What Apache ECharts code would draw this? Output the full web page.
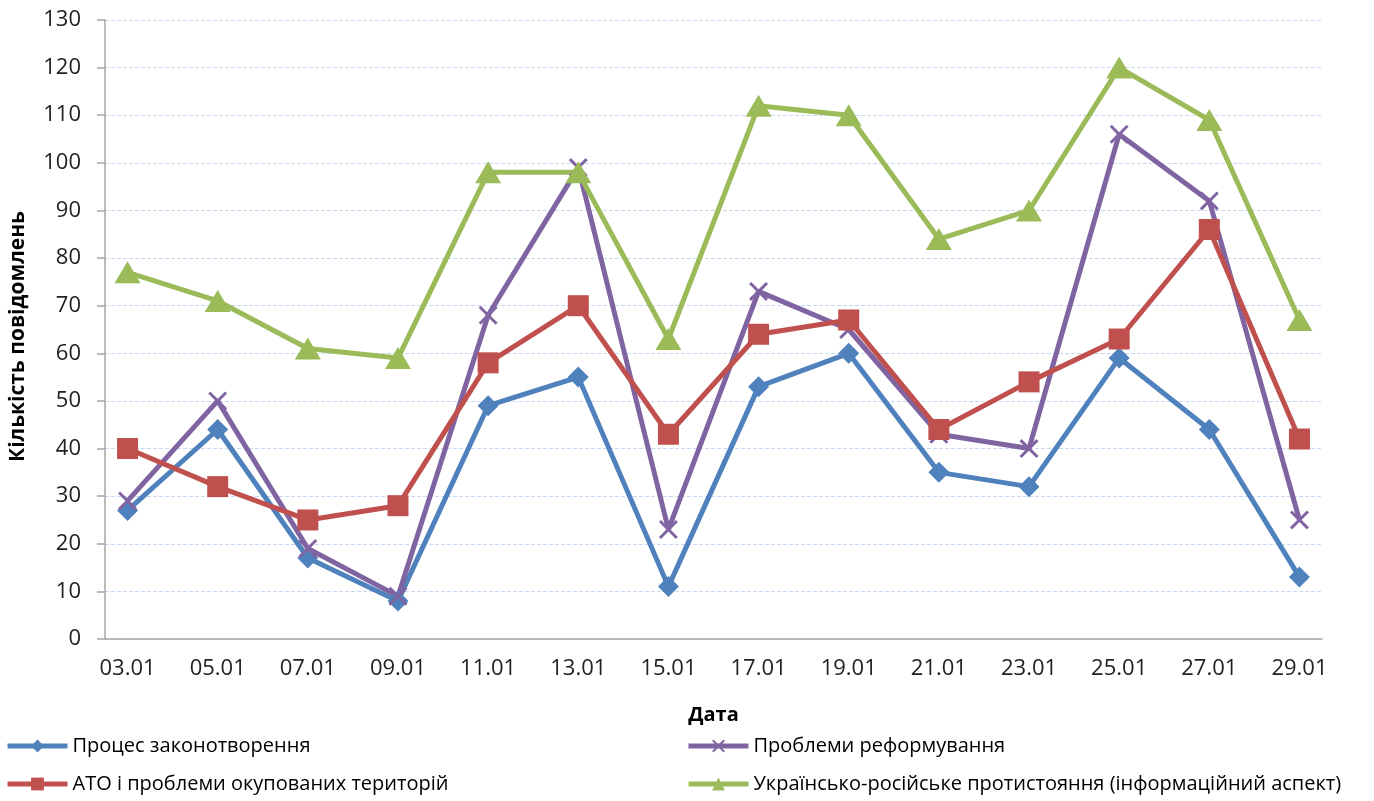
<!DOCTYPE html>
<html>
<head>
<meta charset="utf-8">
<script src="https://cdn.jsdelivr.net/npm/echarts@6/dist/echarts.min.js"></script>
<style>
html,body{margin:0;padding:0;background:#fff;}
#chart{width:1374px;height:801px;}
</style>
</head>
<body>
<div id="chart"></div>
<script>
// All days on the axis (labels shown every other day)
const days = ['03.01','04.01','05.01','06.01','07.01','08.01','09.01','10.01','11.01','12.01','13.01','14.01','15.01','16.01','17.01','18.01','19.01','20.01','21.01','22.01','23.01','24.01','25.01','26.01','27.01','28.01','29.01'];
// Dates with observations
const obsDates = ['03.01','05.01','07.01','09.01','11.01','13.01','15.01','17.01','19.01','21.01','23.01','25.01','27.01','29.01'];

const seriesNames = [
  'Процес законотворення',
  'Проблеми реформування',
  'АТО і проблеми окупованих територій',
  'Українсько-російське протистояння (інформаційний аспект)'
];
const lawmaking   = [27, 44, 17, 8, 49, 55, 11, 53, 60, 35, 32, 59, 44, 13];
const reform      = [29, 50, 19, 9, 68, 99, 23, 73, 65, 43, 40, 106, 92, 25];
const ato         = [40, 32, 25, 28, 58, 70, 43, 64, 67, 44, 54, 63, 86, 42];
const infoWar     = [77, 71, 61, 59, 98, 98, 63, 112, 110, 84, 90, 120, 109, 67];

const yTicks = {min: 0, max: 130, interval: 10};
const xAxisTitle = 'Дата';
const yAxisTitle = 'Кількість повідомлень';

const colors = ['#4F81BD', '#8064A2', '#C0504D', '#9BBB59'];
const xSymbol = 'path://M0,1.1 L1.1,0 L10,8.9 L8.9,10 Z M8.9,0 L10,1.1 L1.1,10 L0,8.9 Z';

function pairs(vals){ return obsDates.map((d,i)=>[d, vals[i]]); }

const chart = echarts.init(document.getElementById('chart'), null, {renderer:'canvas'});

function mk(name, vals, color, symbol, size){
  return {
    name: name, type: 'line', data: pairs(vals),
    symbol: symbol, symbolSize: size, showSymbol: true,
    connectNulls: true,
    lineStyle: {color: color, width: 5},
    itemStyle: {color: color},
    emphasis: {disabled: true},
    animation: false
  };
}

const legendText = {fontFamily: 'Open Sans', fontSize: 20, color: '#000', lineHeight: 24};

const option = {
  animation: false,
  backgroundColor: '#ffffff',
  grid: {left: 105, right: 52, top: 20, bottom: 162, containLabel: false},
  xAxis: {
    type: 'category', data: days, boundaryGap: true,
    name: xAxisTitle, nameLocation: 'middle', nameGap: 66,
    nameTextStyle: {fontFamily: 'Open Sans', fontWeight: 'bold', fontSize: 20, color: '#000'},
    axisLine: {lineStyle: {color: '#A6A6A6', width: 1.5}},
    axisTick: {show: false},
    axisLabel: {interval: 1, fontFamily: 'Open Sans', fontSize: 22, color: '#222', margin: 19},
    splitLine: {show: false}
  },
  yAxis: {
    type: 'value', min: yTicks.min, max: yTicks.max, interval: yTicks.interval,
    name: yAxisTitle, nameLocation: 'middle', nameGap: 76, nameRotate: 90,
    nameTextStyle: {fontFamily: 'Open Sans', fontWeight: 'bold', fontSize: 21, color: '#000', padding: [0, 14, 0, 0]},
    axisLine: {show: true, lineStyle: {color: '#A6A6A6', width: 1.5}},
    axisTick: {show: true, inside: false, length: 8, lineStyle: {color: '#A6A6A6', width: 1.5}},
    axisLabel: {fontFamily: 'Open Sans', fontSize: 22, color: '#222', margin: 24},
    splitLine: {show: true, lineStyle: {color: '#C6D9F1', type: 'dashed', width: 1}}
  },
  legend: [
    {
      data: [seriesNames[0], seriesNames[2]],
      orient: 'vertical', left: 5, top: 734, itemGap: 14, padding: 0,
      itemWidth: 60, itemHeight: 16,
      lineStyle: {width: 5},
      textStyle: legendText,
      selectedMode: false
    },
    {
      data: [seriesNames[1], seriesNames[3]],
      orient: 'vertical', left: 686, top: 734, itemGap: 14, padding: 0,
      itemWidth: 60, itemHeight: 16,
      lineStyle: {width: 5},
      textStyle: legendText,
      selectedMode: false
    }
  ],
  series: [
    mk(seriesNames[0], lawmaking, colors[0], 'diamond', 21),
    mk(seriesNames[1], reform, colors[1], xSymbol, 19),
    mk(seriesNames[2], ato, colors[2], 'rect', 21),
    mk(seriesNames[3], infoWar, colors[3], 'triangle', [26, 22])
  ]
};
chart.setOption(option);
</script>
</body>
</html>
